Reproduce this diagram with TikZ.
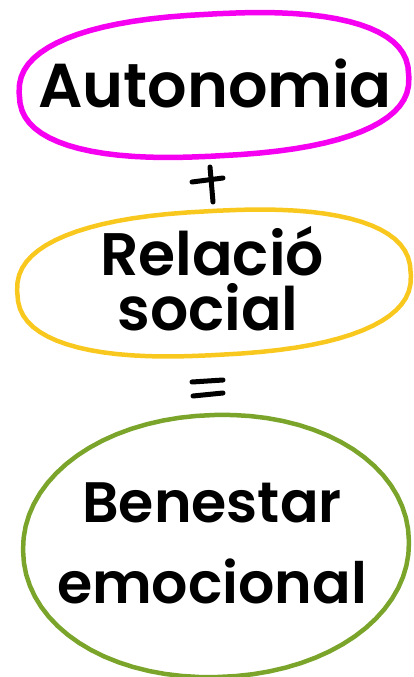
\documentclass[tikz,border=0pt]{standalone}
\usepackage{fontspec}
\setmainfont{Poppins}[BoldFont={Poppins SemiBold}]
\definecolor{magentapen}{HTML}{F500F0}
\definecolor{yellowpen}{HTML}{F9C81E}
\definecolor{greenpen}{HTML}{7AA52A}
\tikzset{
  word/.style={font=\bfseries\fontsize{#1}{#1}\selectfont, inner sep=0pt, anchor=base},
  blob/.style={draw=#1, line width=4.5pt},
  sign/.style={draw=black, line width=5pt, line cap=round}
}
% rounded outline: centre x, centre y, x radius, y radius, exponent
\newcommand\outline[5]{plot[domain=1:356, samples=72]
  ({#1+#3*sign(cos(\x))*abs(cos(\x))^#5}, {#2+#4*sign(sin(\x))*abs(sin(\x))^#5}) -- cycle}
\begin{document}
\begin{tikzpicture}[x=1pt, y=-1pt]
  \useasboundingbox (0,0) rectangle (414,677);

  % texts
  \node[word=62] (autonomia) at (215,107) {Autonomia};
  \node[word=60] (relacio) at (212,275) {Relació};
  \node[word=60] (social) at ([xshift=-4pt, yshift=-55pt]relacio.base) {social};
  \node[word=57] (benestar) at (212,522) {Benestar};
  \node[word=57] (emocional) at ([yshift=-81pt]benestar.base) {emocional};

  % hand-drawn outlines
  \draw[blob=magentapen, line width=5.5pt, rotate around={3:(214,85)}] \outline{214}{85}{195}{71}{0.82};
  \draw[blob=yellowpen, rotate around={3:(214,283)}] \outline{214}{283}{197}{72}{0.82};
  \draw[blob=greenpen, rotate around={2:(216,546)}] \outline{216}{546}{193}{131}{0.97};

  % plus and equals
  \draw[sign] (192,182) -- (223,178);
  \draw[sign] (210,167) -- (213,202);
  \draw[sign] (192,382) -- (223,380);
  \draw[sign] (193,396) -- (223,393);
\end{tikzpicture}
\end{document}
